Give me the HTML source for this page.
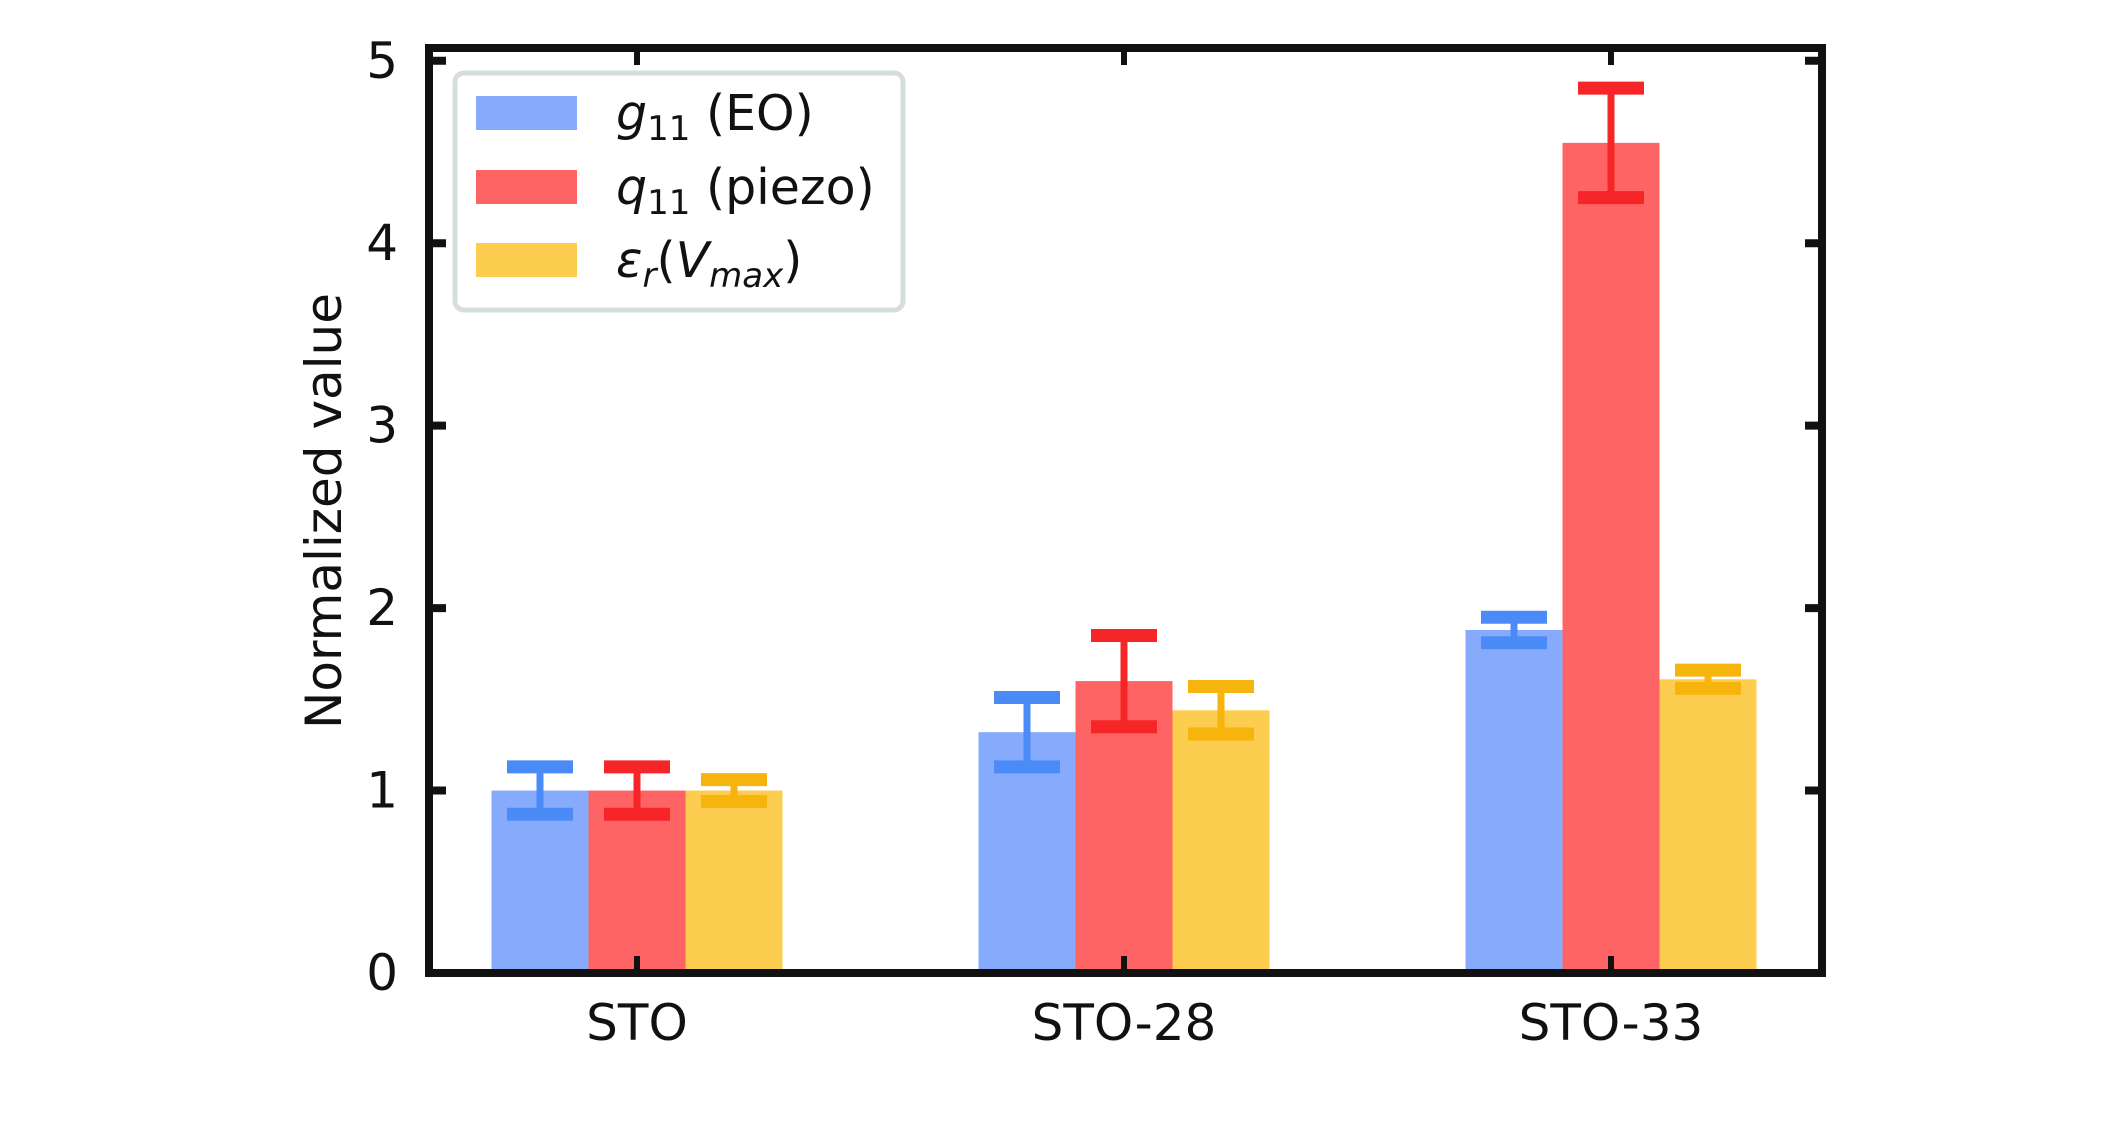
<!DOCTYPE html>
<html><head><meta charset="utf-8"><style>
html,body{margin:0;padding:0;background:#fff}
svg{display:block;font-family:"DejaVu Sans","Liberation Sans",sans-serif}
</style></head><body>
<svg id="chart" width="2126" height="1125" viewBox="0 0 2126 1125"></svg>
<script>
const categories = ["STO", "STO-28", "STO-33"];
const seriesNames = ["g11 (EO)", "q11 (piezo)", "er(Vmax)"];
const g11Values = [1.0, 1.32, 1.88];
const g11Errors = [0.13, 0.19, 0.07];
const q11Values = [1.0, 1.60, 4.55];
const q11Errors = [0.13, 0.25, 0.30];
const erValues = [1.0, 1.44, 1.61];
const erErrors = [0.06, 0.13, 0.05];
const yTicks = [0, 1, 2, 3, 4, 5];

const NS = "http://www.w3.org/2000/svg";
const svg = document.getElementById("chart");
const L = 429, R = 1822, T = 48, B = 973;
const yMin = 0, yMax = 5.07;
function y(v){ return B - (v - yMin) / (yMax - yMin) * (B - T); }
const catX0 = 637, catStep = 487;
function x(i){ return catX0 + i * catStep; }
const barW = 97;

function el(tag, attrs, parent){
  const e = document.createElementNS(NS, tag);
  for (const k in attrs) e.setAttribute(k, attrs[k]);
  (parent || svg).appendChild(e);
  return e;
}

const series = [
  {vals: g11Values, errs: g11Errors, fill: "#86abfc", ec: "#4b8bf8", key: "g11"},
  {vals: q11Values, errs: q11Errors, fill: "#fe6464", ec: "#f52528", key: "q11"},
  {vals: erValues, errs: erErrors, fill: "#fccd4f", ec: "#f6b40d", key: "er"}
];

const barsG = el("g", {});


series.forEach((s, si) => {
  s.vals.forEach((v, ci) => {
    const bx = x(ci) + (si - 1) * barW - barW / 2;
    const r = el("rect", {x: bx, y: y(v), width: barW, height: y(0) - y(v), fill: s.fill}, barsG);
    
    
  });
});
series.forEach((s, si) => {
  s.vals.forEach((v, ci) => {
    const cx = x(ci) + (si - 1) * barW;
    const g = el("g", {stroke: s.ec, fill: "none"}, barsG);
    
    
    const hi = y(v + s.errs[ci]), lo = y(v - s.errs[ci]);
    el("line", {x1: cx, x2: cx, y1: hi, y2: lo, "stroke-width": 7}, g);
    el("line", {x1: cx - 33, x2: cx + 33, y1: hi, y2: hi, "stroke-width": 13}, g);
    el("line", {x1: cx - 33, x2: cx + 33, y1: lo, y2: lo, "stroke-width": 13}, g);
  });
});

const frame = el("rect", {x: L, y: T, width: R - L, height: B - T, fill: "none", stroke: "#111", "stroke-width": 8});



yTicks.forEach(t => {
  const yy = y(t);
  el("line", {x1: L, x2: L + 17, y1: yy, y2: yy, stroke: "#111", "stroke-width": 8});
  el("line", {x1: R - 17, x2: R, y1: yy, y2: yy, stroke: "#111", "stroke-width": 8});
  const lab = el("text", {x: 398, y: yy + 17, "text-anchor": "end", "font-size": 50, fill: "#111"});
  lab.textContent = t;
  
  
});
categories.forEach((c, i) => {
  el("line", {x1: x(i), x2: x(i), y1: B, y2: B - 17, stroke: "#111", "stroke-width": 6});
  el("line", {x1: x(i), x2: x(i), y1: T, y2: T + 17, stroke: "#111", "stroke-width": 6});
  const lab = el("text", {x: x(i), y: 1040, "text-anchor": "middle", "font-size": 50, fill: "#111"});
  lab.textContent = c;
  
  
});

const yt = el("text", {x: 0, y: 0, transform: "translate(341,511) rotate(-90)", "text-anchor": "middle", "font-size": 50, fill: "#111"});
yt.textContent = "Normalized value";



const lg = el("g", {});


el("rect", {x: 455, y: 73, width: 448, height: 237, rx: 9, fill: "#fff", stroke: "#d5dedc", "stroke-width": 5}, lg);
const rowsY = [113, 187, 260];
const legendHTML = [
  '<tspan font-style="italic">g</tspan><tspan font-size="34" dy="10">11</tspan><tspan dy="-10"> (EO)</tspan>',
  '<tspan font-style="italic">q</tspan><tspan font-size="34" dy="10">11</tspan><tspan dy="-10"> (piezo)</tspan>',
  '<tspan font-style="italic">ε</tspan><tspan font-style="italic" font-size="34" dy="10">r</tspan><tspan dy="-10">(</tspan><tspan font-style="italic">V</tspan><tspan font-style="italic" font-size="34" dy="10">max</tspan><tspan dy="-10">)</tspan>'
];
series.forEach((s, i) => {
  const eg = el("g", {}, lg);
  
  
  el("rect", {x: 476, y: rowsY[i] - 17, width: 101, height: 34, fill: s.fill}, eg);
  const t = el("text", {x: 616, y: rowsY[i] + 17, "font-size": 49, fill: "#111"}, eg);
  t.innerHTML = legendHTML[i];
});
</script>
</body></html>
